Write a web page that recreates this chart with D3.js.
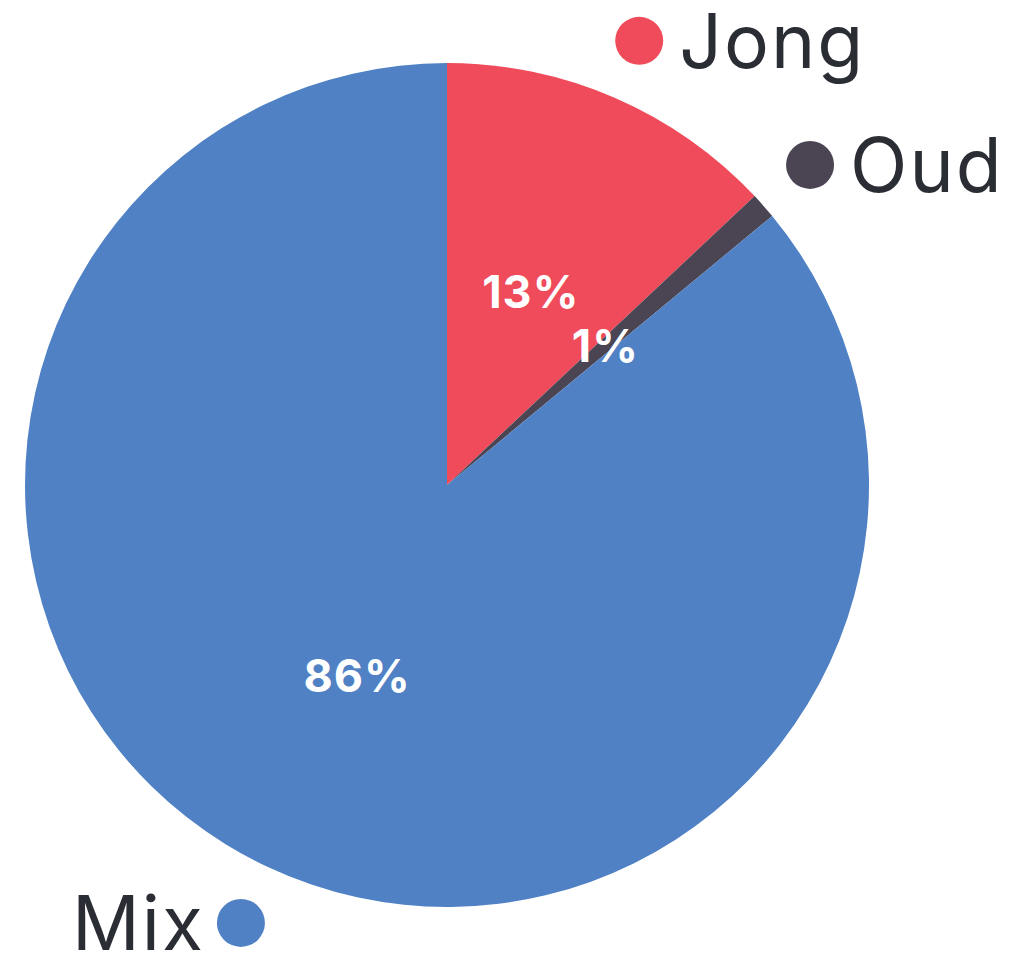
<!DOCTYPE html>
<html><head><meta charset="utf-8">
<script src="https://cdn.jsdelivr.net/npm/d3@7"></script>
<style>html,body{margin:0;padding:0;background:#fff;}svg{display:block;}</style>
</head><body>
<svg id="chart" width="1021" height="959"></svg>
<script>
const categories = ["Jong", "Oud", "Mix"];
const values = [13, 1, 86];
const colors = ["#EF4B5A", "#4A4453", "#4F81C4"];

const svg = d3.select("#chart");
const cx = 447, cy = 485, R = 422, legendR = 484;
const g = svg.append("g").attr("transform", `translate(${cx},${cy})`);

const data = categories.map((c, i) => ({cat: c, value: values[i], color: colors[i]}));
const pie = d3.pie().value(d => d.value).sort(null);
const arcs = pie(data);
const arc = d3.arc().innerRadius(0).outerRadius(R);
const labelArc = d3.arc().innerRadius(legendR).outerRadius(legendR);

g.selectAll("path.slice").data(arcs).join("path")
  .attr("class", "slice")
  .attr("d", arc)
  .attr("fill", d => d.data.color);

g.selectAll("text.pct").data(arcs).join("text")
  .attr("class", "pct")
  .attr("transform", d => `translate(${arc.centroid(d)})`)
  .attr("text-anchor", "middle")
  .attr("dy", "0.36em")
  .attr("font-family", "Inter, 'Open Sans', sans-serif")
  .attr("font-weight", 700)
  .attr("font-size", 45)
  .attr("letter-spacing", 1)
  .attr("fill", "#fff")
  .text(d => d.data.value + "%");

const isRight = d => (d.startAngle + d.endAngle) / 2 < Math.PI;
const leg = g.selectAll("g.leg").data(arcs).join("g")
  .attr("class", "leg")
  .attr("transform", d => `translate(${labelArc.centroid(d)})`);
leg.append("circle").attr("r", 24).attr("fill", d => d.data.color);
leg.append("text")
  .attr("x", d => (isRight(d) ? 40 : -36))
  .attr("text-anchor", d => (isRight(d) ? "start" : "end"))
  .attr("y", 27)
  .attr("font-family", "Inter, 'Open Sans', sans-serif")
  .attr("font-size", 75)
  .attr("letter-spacing", 2)
  .attr("fill", "#2B2D35")
  .text(d => d.data.cat);
</script>
</body></html>
